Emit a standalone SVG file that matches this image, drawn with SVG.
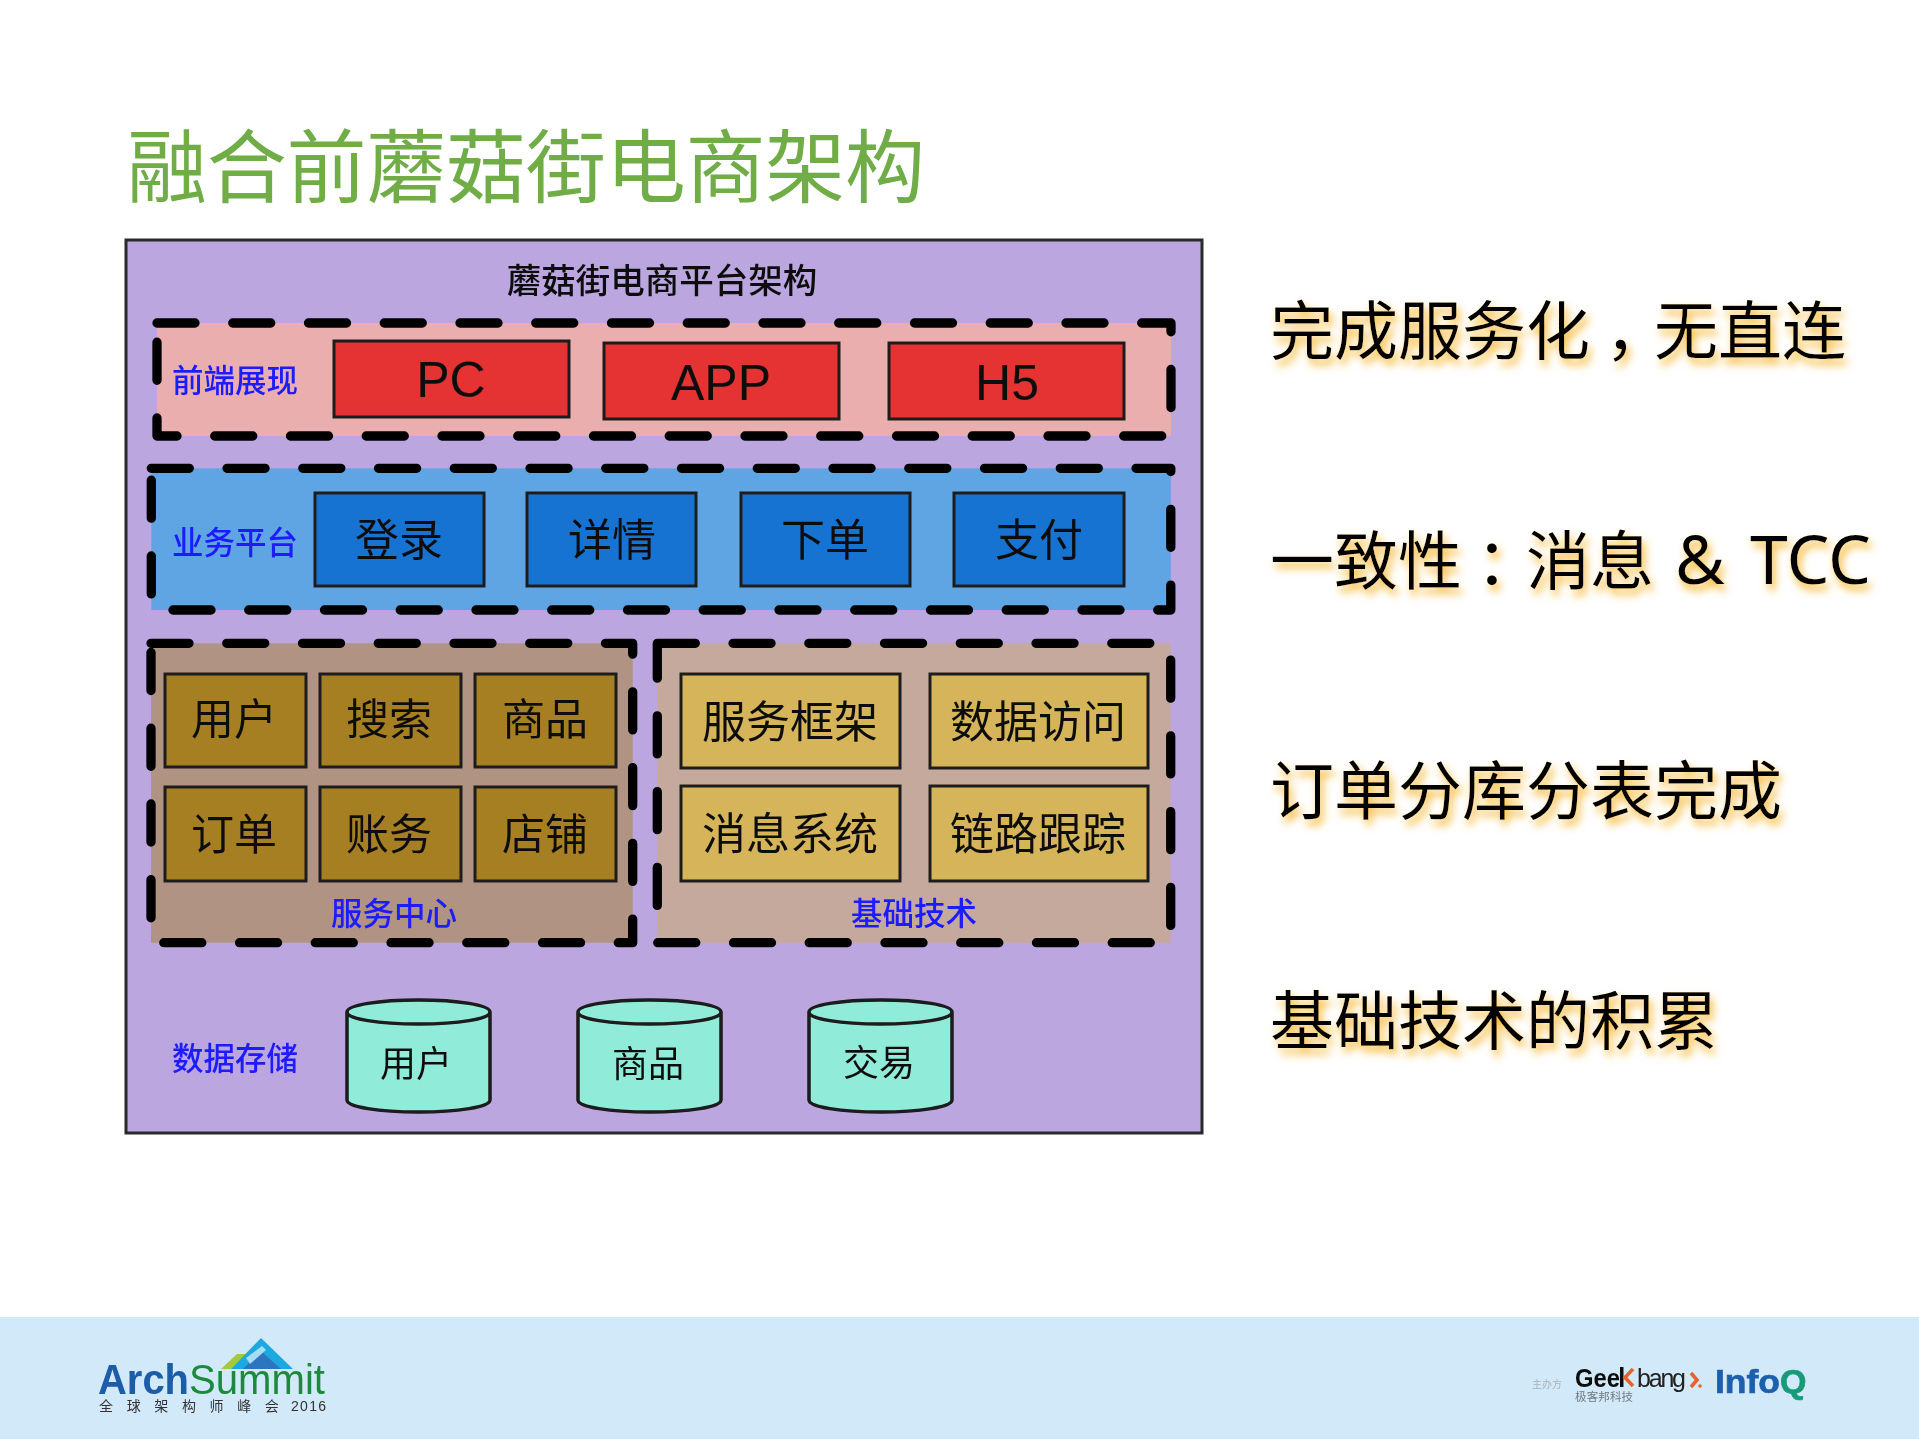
<svg xmlns="http://www.w3.org/2000/svg" width="1919" height="1439" viewBox="0 0 1919 1439">
<style>
text{font-family:"Noto Sans CJK SC","Noto Sans",sans-serif;text-anchor:middle;fill:#111}
.lat{font-family:"Liberation Sans",Arial,sans-serif;font-size:50px}
.ls{font-family:"Liberation Sans",Arial,sans-serif;text-anchor:start}
.st{text-anchor:start}
.box{stroke:#1f1f1f;stroke-width:3}
.red{fill:#E53030}.blu{fill:#1673D2}.gol{fill:#A67F22}.san{fill:#D6B45A}
.dash{fill:none;stroke:#000;stroke-width:9.300;stroke-linecap:round;stroke-linejoin:round;stroke-dasharray:38 37.750}
.l44{font-size:44px}.l43{font-size:43px}.l36{font-size:36px}
.grp{font-size:31.500px;font-weight:500;fill:#1A1AFF}
.side{font-size:64px;text-anchor:start;fill:#000;filter:url(#glow)}
.sl{font-family:"Noto Sans",sans-serif;font-size:68px}
.cyl{fill:#90EBD8;stroke:#1a1a1a;stroke-width:3.500}
.sub{font-size:14px;text-anchor:start;fill:#333}
</style>
<defs>
<filter id="glow" x="-5%" y="-30%" width="110%" height="170%"><feGaussianBlur in="SourceAlpha" stdDeviation="4" result="b"/><feOffset in="b" dx="3" dy="6" result="o"/><feFlood flood-color="#F5B62E" flood-opacity="1"/><feComposite in2="o" operator="in" result="s"/><feMerge><feMergeNode in="s"/><feMergeNode in="SourceGraphic"/></feMerge></filter>
<filter id="soft" x="-2%" y="-2%" width="104%" height="104%"><feGaussianBlur stdDeviation="0.600"/></filter>
<filter id="logo" x="-5%" y="-5%" width="110%" height="110%"><feGaussianBlur stdDeviation="0.500"/></filter>
</defs>
<rect width="1919" height="1439" fill="#fff"/>
<text id="title" x="127" y="196" font-size="80" style="text-anchor:start;fill:#70AD47" textLength="798">融合前蘑菇街电商架构</text>
<g id="diagram" filter="url(#soft)">
<g id="outer"><rect x="126" y="240" width="1076" height="893" fill="#BBA6E0" stroke="#2a2a2a" stroke-width="3"/><text x="662" y="293" font-size="34.500" font-weight="500">蘑菇街电商平台架构</text></g>
<g id="front"><rect x="157" y="323" width="1014" height="113" fill="#EBAEAE"/><rect class="dash" x="157" y="323" width="1014" height="113"/><text class="grp" x="235" y="392">前端展现</text>
<g id="pc"><rect class="box red" x="334" y="341" width="235" height="76"/><text class="lat" x="451" y="397">PC</text></g>
<g id="app"><rect class="box red" x="604" y="343" width="235" height="76"/><text class="lat" x="721" y="400">APP</text></g>
<g id="h5"><rect class="box red" x="889" y="343" width="235" height="76"/><text class="lat" x="1007" y="400">H5</text></g></g>
<g id="biz"><rect x="151.300" y="468.300" width="1019.500" height="141.700" fill="#60A5E3"/><rect class="dash" x="151.300" y="468.300" width="1019.500" height="141.700"/><text class="grp" x="235" y="554">业务平台</text>
<g id="login"><rect class="box blu" x="315" y="493" width="169" height="93"/><text class="l44" x="399" y="556">登录</text></g>
<g id="detail"><rect class="box blu" x="527" y="493" width="169" height="93"/><text class="l44" x="612" y="556">详情</text></g>
<g id="order"><rect class="box blu" x="741" y="493" width="169" height="93"/><text class="l44" x="825" y="556">下单</text></g>
<g id="pay"><rect class="box blu" x="954" y="493" width="170" height="93"/><text class="l44" x="1039" y="556">支付</text></g></g>
<g id="svc"><rect x="151" y="643.300" width="481.700" height="299.400" fill="#B09382"/><rect class="dash" x="151" y="643.300" width="481.700" height="299.400"/><text class="grp" x="394" y="925">服务中心</text>
<g id="s1"><rect class="box gol" x="165" y="674" width="141" height="93"/><text class="l43" x="234" y="735">用户</text></g>
<g id="s2"><rect class="box gol" x="320" y="674" width="141" height="93"/><text class="l43" x="389" y="735">搜索</text></g>
<g id="s3"><rect class="box gol" x="475" y="674" width="141" height="93"/><text class="l43" x="545" y="735">商品</text></g>
<g id="s4"><rect class="box gol" x="165" y="787" width="141" height="94"/><text class="l43" x="234" y="850">订单</text></g>
<g id="s5"><rect class="box gol" x="320" y="787" width="141" height="94"/><text class="l43" x="389" y="850">账务</text></g>
<g id="s6"><rect class="box gol" x="475" y="787" width="141" height="94"/><text class="l43" x="545" y="850">店铺</text></g></g>
<g id="base"><rect x="657.300" y="643.300" width="513.400" height="299.400" fill="#C6A99D"/><rect class="dash" x="657.300" y="643.300" width="513.400" height="299.400"/><text class="grp" x="914" y="925">基础技术</text>
<g id="b1"><rect class="box san" x="681" y="674" width="219" height="94"/><text class="l44" x="790" y="738">服务框架</text></g>
<g id="b2"><rect class="box san" x="930" y="674" width="218" height="94"/><text class="l44" x="1038" y="738">数据访问</text></g>
<g id="b3"><rect class="box san" x="681" y="786" width="219" height="95"/><text class="l44" x="790" y="850">消息系统</text></g>
<g id="b4"><rect class="box san" x="930" y="786" width="218" height="95"/><text class="l44" x="1038" y="850">链路跟踪</text></g></g>
<g id="store"><text class="grp" x="235" y="1070">数据存储</text>
<g id="c1"><path class="cyl" d="M347 1012v88c0 7 32 12 71.500 12s71.500-5 71.500-12v-88c0-7-32-12-71.500-12s-71.500 5-71.500 12c0 7 32 12 71.500 12s71.500-5 71.500-12"/><text class="l36" x="416" y="1077">用户</text></g>
<g id="c2"><path class="cyl" d="M578 1012v88c0 7 32 12 71.500 12s71.500-5 71.500-12v-88c0-7-32-12-71.500-12s-71.500 5-71.500 12c0 7 32 12 71.500 12s71.500-5 71.500-12"/><text class="l36" x="648" y="1077">商品</text></g>
<g id="c3"><path class="cyl" d="M809 1012v88c0 7 32 12 71.500 12s71.500-5 71.500-12v-88c0-7-32-12-71.500-12s-71.500 5-71.500 12c0 7 32 12 71.500 12s71.500-5 71.500-12"/><text class="l36" x="879" y="1076">交易</text></g></g>
</g>
<g id="points">
<text class="side" x="1270" y="354">完成服务化<tspan dx="15">，</tspan><tspan dx="-15">无直连</tspan></text>
<text class="side" x="1270" y="584">一致性<tspan dx="14">：</tspan><tspan dx="-14">消息</tspan><tspan class="sl" x="1675">&amp;</tspan><tspan class="sl" x="1750">TCC</tspan></text>
<text class="side" x="1270" y="814">订单分库分表完成</text>
<text class="side" x="1270" y="1044">基础技术的积累</text>
</g>
<rect id="footer" y="1317" width="1919" height="122" fill="#D2E9F9"/>
<g id="logo-as" filter="url(#logo)">
<polygon points="221,1369 237,1354 246,1354 231,1369" fill="#A4C93C"/>
<polygon points="231,1369 261,1338 293,1369" fill="#1FA8E0"/>
<polygon points="243,1369 261,1351 281,1369" fill="#2F74C0"/>
<polygon points="246,1358 262,1346 266,1350 250,1364" fill="#A7DDF2"/>
<text class="ls" x="98" y="1394" font-size="42" font-weight="700" style="fill:#1A5CA8" textLength="91" lengthAdjust="spacingAndGlyphs">Arch</text>
<text class="ls" x="189" y="1394" font-size="42" style="fill:#1E8A3C" textLength="136" lengthAdjust="spacingAndGlyphs">Summit</text>
<text class="sub" x="99" y="1411" style="word-spacing:10.500px">全 球 架 构 师 峰 会</text>
<text class="ls" x="291" y="1411" font-size="14" style="fill:#333" textLength="35">2016</text>
</g>
<g id="logo-gb" filter="url(#logo)">
<text class="st" x="1532" y="1388" font-size="10" style="fill:#A8B2B8">主办方</text>
<text class="ls" x="1575" y="1387" font-size="25" font-weight="700" style="fill:#111" textLength="45" lengthAdjust="spacingAndGlyphs">Gee</text>
<rect x="1620" y="1367" width="3.500" height="20" fill="#111"/>
<polyline points="1633,1369 1625,1377.500 1633,1386" fill="none" stroke="#E8622A" stroke-width="3.500"/>
<text class="ls" x="1637" y="1387" font-size="25" style="fill:#222" textLength="49">bang</text>
<polyline points="1691,1373 1697,1380 1691,1387" fill="none" stroke="#E8622A" stroke-width="3.500"/>
<circle cx="1700" cy="1386" r="1.800" fill="#E8622A"/>
<text class="st" x="1575" y="1401" font-size="11.500" style="fill:#6F7A80" textLength="58">极客邦科技</text>
<text class="ls" x="1715" y="1393" font-size="33" font-weight="700" style="fill:#1F5FAE;stroke:#1F5FAE;stroke-width:0.700" textLength="65" lengthAdjust="spacingAndGlyphs">Info</text>
<text class="ls" x="1780" y="1393" font-size="34" font-weight="700" style="fill:#169A78;stroke:#169A78;stroke-width:0.700">Q</text>
</g>
</svg>
